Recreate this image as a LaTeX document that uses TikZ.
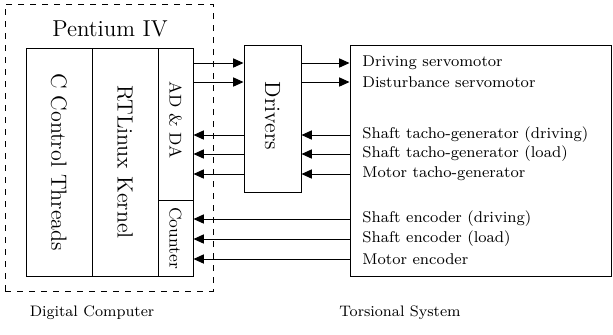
\documentclass[tikz,border=0pt]{standalone}
\usepackage{tikz}
\usetikzlibrary{positioning,arrows.meta}

\tikzset{
  blk/.style={draw,line width=0.5pt,inner sep=0pt},
  lbl/.style={anchor=west,inner sep=0pt,font=\fontsize{7.8}{9}\selectfont},
  sig/.style={line width=0.5pt,-{Triangle[length=5.2pt,width=4.6pt]}},
}

\begin{document}
\begin{tikzpicture}[x=0.5pt,y=-0.5pt]
  \useasboundingbox (0,0) rectangle (613,334);
  % ---- digital computer ----
  \node[blk,dashed,minimum width=104pt,minimum height=143.5pt] (dig) at (109,147.5) {};
  \node[font=\fontsize{11.5}{13}\selectfont] (pent) at (110,29) {Pentium IV};
  \node[blk,minimum width=33pt,minimum height=114pt] (ctrl) at (59,162) {};
  \node[blk,minimum width=33pt,minimum height=114pt] (rtl) at (125,162) {};
  \node[blk,minimum width=17.5pt,minimum height=76pt] (adda) at (175.5,124) {};
  \node[blk,minimum width=17.5pt,minimum height=38pt] (cnt) at (175.5,238) {};
  \node[rotate=-90,font=\fontsize{11}{12}\selectfont] (ctrltxt) at (ctrl) {C Control Threads};
  \node[rotate=-90,font=\fontsize{11}{12}\selectfont] (rtltxt) at (rtl) {RTLinux Kernel};
  \node[rotate=-90,font=\fontsize{8.5}{10}\selectfont] (addatxt) at (175.5,120) {AD \& DA};
  \node[rotate=-90,font=\fontsize{8.5}{10}\selectfont] (cnttxt) at (cnt) {Counter};
  % ---- drivers ----
  \node[blk,minimum width=28.5pt,minimum height=73.5pt] (drv) at (272.5,118.5) {};
  \node[rotate=-90,font=\fontsize{11}{12}\selectfont] (drvtxt) at (272.5,116) {Drivers};
  % ---- torsional system ----
  \node[blk,minimum width=130.5pt,minimum height=115.5pt] (sys) at (480.5,160.5) {};
  \foreach \n/\y/\t in {s1/63/Driving servomotor, s2/82/Disturbance servomotor,
      s3/135/Shaft tacho-generator (driving), s4/154/Shaft tacho-generator (load),
      s5/174/Motor tacho-generator, s6/219/Shaft encoder (driving),
      s7/239/Shaft encoder (load), s8/259/Motor encoder}
    \node[lbl] (\n) at (362,\y) {\t};
  % ---- signals ----
  \foreach \n in {s1,s2}{
    \draw[sig] (adda.east |- \n) -- (drv.west |- \n);
    \draw[sig] (drv.east |- \n) -- (sys.west |- \n);
  }
  \foreach \n in {s3,s4,s5}{
    \draw[sig] (sys.west |- \n) -- (drv.east |- \n);
    \draw[sig] (drv.west |- \n) -- (adda.east |- \n);
  }
  \foreach \n in {s6,s7,s8}
    \draw[sig] (sys.west |- \n) -- (cnt.east |- \n);
  % ---- captions ----
  \node[font=\fontsize{7.6}{9}\selectfont] (digcap) at (92,313) {Digital Computer};
  \node[font=\fontsize{7.6}{9}\selectfont] (syscap) at (400,313) {Torsional System};
\end{tikzpicture}
\end{document}
